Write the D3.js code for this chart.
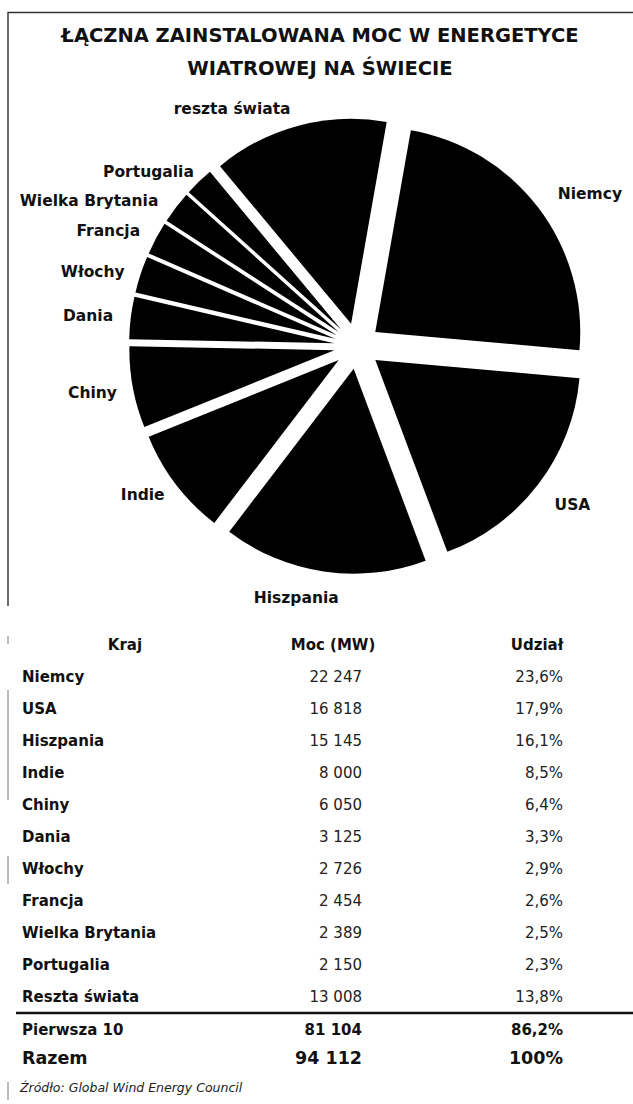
<!DOCTYPE html>
<html><head><meta charset="utf-8">
<script src="https://cdn.jsdelivr.net/npm/d3@7"></script>
<style>body{margin:0;background:#fff} svg{display:block}</style>
</head><body><div id="chart"></div>
<script>
// ---------- data ----------
const titleLines = ["ŁĄCZNA ZAINSTALOWANA MOC W ENERGETYCE", "WIATROWEJ NA ŚWIECIE"];
const countries = ["Niemcy", "USA", "Hiszpania", "Indie", "Chiny", "Dania", "Włochy", "Francja", "Wielka Brytania", "Portugalia", "Reszta świata"];
const pieLabels = ["Niemcy", "USA", "Hiszpania", "Indie", "Chiny", "Dania", "Włochy", "Francja", "Wielka Brytania", "Portugalia", "reszta świata"];
const capacityMW = [22247, 16818, 15145, 8000, 6050, 3125, 2726, 2454, 2389, 2150, 13008];
const shareLabels = ["23,6%", "17,9%", "16,1%", "8,5%", "6,4%", "3,3%", "2,9%", "2,6%", "2,5%", "2,3%", "13,8%"];
const columnHeaders = ["Kraj", "Moc (MW)", "Udział"];
const summaryLabels = ["Pierwsza 10", "Razem"];
const summaryMW = [81104, 94112];
const summaryShares = ["86,2%", "100%"];
const sourceText = "Źródło: Global Wind Energy Council";

// ---------- layout ----------
const W = 633, H = 1104;
const FONT = "'DejaVu Sans', 'Liberation Sans', Arial, sans-serif";
const svg = d3.select("#chart").append("svg").attr("width", W).attr("height", H)
  .style("font-family", FONT);

// frame (scanned page border)
svg.append("path").attr("d", "M8,606V12.5H633").attr("fill", "none")
  .attr("stroke", "#333").attr("stroke-width", 1.4);
[[636, 644], [690, 800], [856, 884], [1082, 1100]].forEach(s =>
  svg.append("line").attr("x1", 8).attr("x2", 8).attr("y1", s[0]).attr("y2", s[1])
    .attr("stroke", "#777").attr("stroke-width", 1));

// title
svg.selectAll("text.title").data(titleLines).join("text").attr("class", "title")
  .attr("x", 320).attr("y", (d, i) => 42 + i * 33)
  .attr("text-anchor", "middle").attr("font-weight", "bold").attr("font-size", 19.5)
  .attr("fill", "#111").text(d => d);

// pie
const cx = 357, cy = 346, R = 205, explode = 23;
const start = 10 * Math.PI / 180;
const pieData = countries.map((c, i) => ({ name: c, label: pieLabels[i], mw: capacityMW[i] }));
const pie = d3.pie().sort(null).value(d => d.mw).startAngle(start).endAngle(start + 2 * Math.PI);
const arc = d3.arc().innerRadius(0).outerRadius(R);
const arcs = pie(pieData);
const g = svg.append("g");
g.selectAll("path").data(arcs).join("path")
  .attr("d", arc)
  .attr("transform", d => {
    const m = (d.startAngle + d.endAngle) / 2;
    return `translate(${cx + explode * Math.sin(m)},${cy - explode * Math.cos(m)})`;
  })
  .attr("fill", "#000");

// pie labels: placed along slice bisector, nudged to avoid crowding
const labelR = 272;
const labelNudge = {
  "Niemcy": [17, 13], "USA": [-1, -6], "Hiszpania": [-21, -18], "Indie": [2, -17],
  "Chiny": [3, -3], "Dania": [1, 3], "Włochy": [-6, 11], "Francja": [-9, 13],
  "Wielka Brytania": [-52, 20], "Portugalia": [-20, 22], "Reszta świata": [-55, 25]
};
svg.append("g").selectAll("text").data(arcs).join("text")
  .attr("x", d => { const m = (d.startAngle + d.endAngle) / 2; return cx + labelR * Math.sin(m) + labelNudge[d.data.name][0]; })
  .attr("y", d => { const m = (d.startAngle + d.endAngle) / 2; return cy - labelR * Math.cos(m) + labelNudge[d.data.name][1]; })
  .attr("dy", "0.36em").attr("text-anchor", "middle")
  .attr("font-weight", "bold").attr("font-size", 15.5).attr("fill", "#111")
  .text(d => d.data.label);

// ---------- table ----------
const locale = d3.formatLocale({ decimal: ",", thousands: " ", grouping: [3], currency: ["", ""] });
const fmt = locale.format(",d");
const colName = 22, colMoc = 362, colShare = 563;
const headY = 650, row0 = 682, rowStep = 32;

const head = svg.append("g").attr("font-weight", "bold").attr("font-size", 15).attr("fill", "#111");
head.append("text").attr("x", 125).attr("y", headY).attr("text-anchor", "middle").text(columnHeaders[0]);
head.append("text").attr("x", 333).attr("y", headY).attr("text-anchor", "middle").text(columnHeaders[1]);
head.append("text").attr("x", 537).attr("y", headY).attr("text-anchor", "middle").text(columnHeaders[2]);

const rows = svg.append("g").selectAll("g").data(countries).join("g")
  .attr("transform", (d, i) => `translate(0,${row0 + i * rowStep})`);
rows.append("text").attr("x", colName).attr("font-weight", "bold").attr("font-size", 15)
  .attr("fill", "#111").text(d => d);
rows.append("text").attr("x", colMoc).attr("text-anchor", "end").attr("font-size", 15)
  .attr("fill", "#222").text((d, i) => fmt(capacityMW[i]));
rows.append("text").attr("x", colShare).attr("text-anchor", "end").attr("font-size", 15)
  .attr("fill", "#222").text((d, i) => shareLabels[i]);

// separator
svg.append("line").attr("x1", 16).attr("x2", 633).attr("y1", 1013).attr("y2", 1013)
  .attr("stroke", "#111").attr("stroke-width", 2.5);

// summary rows
const sumY = [1035, 1064], sumSize = [15, 17.5];
summaryLabels.forEach((lab, i) => {
  const s = svg.append("g").attr("font-weight", "bold").attr("font-size", sumSize[i]).attr("fill", "#111");
  s.append("text").attr("x", colName).attr("y", sumY[i]).text(lab);
  s.append("text").attr("x", colMoc).attr("y", sumY[i]).attr("text-anchor", "end").text(fmt(summaryMW[i]));
  s.append("text").attr("x", colShare).attr("y", sumY[i]).attr("text-anchor", "end").text(summaryShares[i]);
});

// source
svg.append("text").attr("x", 20).attr("y", 1092).attr("font-size", 12.5)
  .attr("font-style", "italic").attr("fill", "#222").text(sourceText);
</script>
</body></html>
